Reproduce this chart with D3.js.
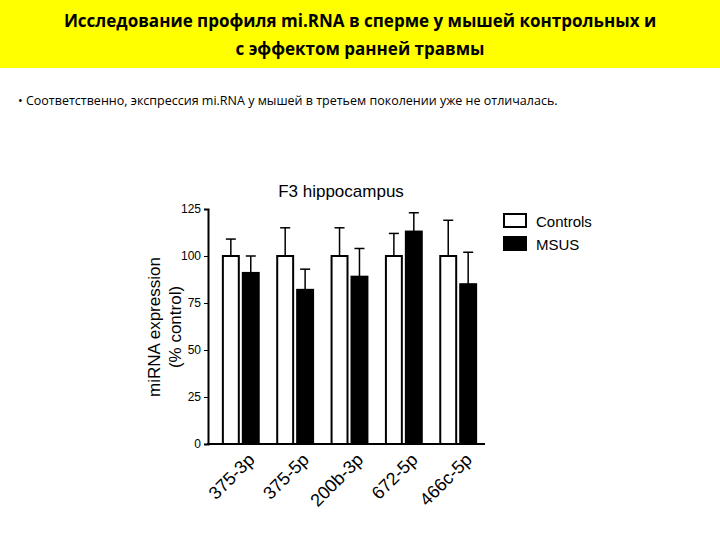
<!DOCTYPE html>
<html><head><meta charset="utf-8">
<script src="https://cdn.jsdelivr.net/npm/d3@7"></script>
<style>body{margin:0;background:#fff}</style>
</head><body>
<svg id="c" width="720" height="540"></svg>
<script>
var categories = ["375-3p", "375-5p", "200b-3p", "672-5p", "466c-5p"];
var controls = [100, 100, 100, 100, 100];
var controlsErr = [109, 115, 115, 112, 119];
var msus = [91, 82, 89, 113, 85];
var msusErr = [100, 93, 104, 123, 102];
var yTicks = [0, 25, 50, 75, 100, 125];

var svg = d3.select("#c");

svg.append("rect").attr("x", 0).attr("y", 0).attr("width", 720).attr("height", 68).attr("fill", "#ffff00");
svg.append("text").attr("x", 360).attr("y", 27).attr("text-anchor", "middle")
    .attr("font-family", "Open Sans, Liberation Sans").attr("font-weight", "bold").attr("font-size", 17)
    .text("Исследование профиля mi.RNA в сперме у мышей контрольных и");
svg.append("text").attr("x", 360).attr("y", 55).attr("text-anchor", "middle")
    .attr("font-family", "Open Sans, Liberation Sans").attr("font-weight", "bold").attr("font-size", 17)
    .text("с эффектом ранней травмы");
svg.append("text").attr("x", 18).attr("y", 105)
    .attr("font-family", "Open Sans, Liberation Sans").attr("font-size", 12.5)
    .text("•  Соответственно, экспрессия mi.RNA у мышей в третьем поколении уже не отличалась.");

var y = d3.scaleLinear().domain([0, 125]).range([444, 209]);
var x = d3.scaleBand().domain(categories).range([212, 487]).paddingInner(0.34).paddingOuter(0.2);
var bw = x.bandwidth() / 2 - 2;

var g = svg.append("g").attr("font-family", "Liberation Sans, Arial");

g.append("text").attr("x", 341).attr("y", 197).attr("text-anchor", "middle").attr("font-size", 17).text("F3 hippocampus");

function drawSeries(vals, errs, fill, offset) {
    vals.forEach(function (v, i) {
        var cx = x(categories[i]) + offset + bw / 2;
        g.append("line").attr("x1", cx).attr("x2", cx).attr("y1", y(v)).attr("y2", y(errs[i]))
            .attr("stroke", "#000").attr("stroke-width", 1.5);
        g.append("line").attr("x1", cx - 5).attr("x2", cx + 5).attr("y1", y(errs[i])).attr("y2", y(errs[i]))
            .attr("stroke", "#000").attr("stroke-width", 1.5);
        g.append("rect").attr("x", x(categories[i]) + offset).attr("y", y(v))
            .attr("width", bw).attr("height", y(0) - y(v))
            .attr("fill", fill).attr("stroke", "#000").attr("stroke-width", 2);
    });
}
drawSeries(controls, controlsErr, "#fff", 0);
drawSeries(msus, msusErr, "#000", bw + 4);

var ya = g.append("g").attr("transform", "translate(208,0)")
    .call(d3.axisLeft(y).tickValues(yTicks).tickSize(4));
ya.select(".domain").attr("stroke-width", 2);
ya.selectAll("text").attr("font-size", 12).attr("font-family", "Liberation Sans, Arial");

g.append("line").attr("x1", 207).attr("x2", 485).attr("y1", 444).attr("y2", 444).attr("stroke", "#000").attr("stroke-width", 2);

categories.forEach(function (c) {
    var cx = x(c) + x.bandwidth() / 2 + 6;
    g.append("text").attr("transform", "translate(" + cx + ",452) rotate(-45)")
        .attr("text-anchor", "end").attr("dy", "0.7em").attr("font-size", 18).text(c);
});

g.append("text").attr("transform", "translate(160,327) rotate(-90)").attr("text-anchor", "middle")
    .attr("font-size", 17).text("miRNA expression");
g.append("text").attr("transform", "translate(181,327) rotate(-90)").attr("text-anchor", "middle")
    .attr("font-size", 17).text("(% control)");

var legend = [["Controls", "#fff"], ["MSUS", "#000"]];
legend.forEach(function (d, i) {
    g.append("rect").attr("x", 504).attr("y", 214 + i * 23).attr("width", 22).attr("height", 13)
        .attr("fill", d[1]).attr("stroke", "#000").attr("stroke-width", 2);
    g.append("text").attr("x", 536).attr("y", 227 + i * 23).attr("font-size", 15).text(d[0]);
});
</script>
</body></html>
